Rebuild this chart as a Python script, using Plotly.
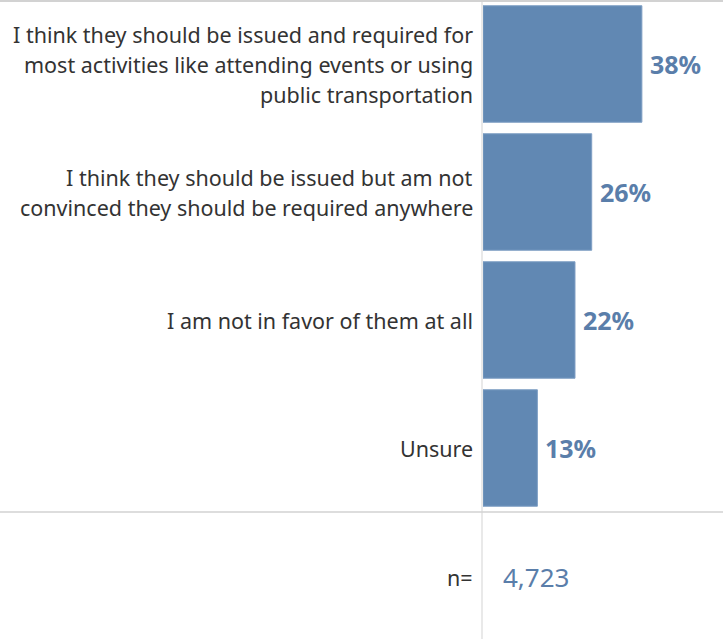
import plotly.graph_objects as go

categories = [
    "I think they should be issued and required for<br>most activities like attending events or using<br>public transportation",
    "I think they should be issued but am not<br>convinced they should be required anywhere",
    "I am not in favor of them at all",
    "Unsure",
]
values = [38, 26, 22, 13]
value_labels = ["38%", "26%", "22%", "13%"]
n_label = "n="
n_value = "4,723"

W, H = 723, 639
x0 = 483 / W
y_split = 1 - 512 / H

bar_color = "#6188b3"
text_blue = "#5a7eaa"
font_family = "Noto Sans"
line_h = 30

fig = go.Figure()
fig.add_trace(go.Bar(
    x=values, y=categories, orientation="h",
    marker=dict(color=bar_color, line=dict(color="#7f9fc4", width=1)),
    hoverinfo="skip",
))

fig.update_layout(
    width=W, height=H,
    margin=dict(l=0, r=0, t=0, b=0),
    paper_bgcolor="white", plot_bgcolor="white",
    showlegend=False,
    bargap=0.09,
    xaxis=dict(domain=[x0, 1], range=[0, 57.4], visible=False, fixedrange=True),
    yaxis=dict(domain=[y_split, 1], autorange="reversed", fixedrange=True,
               showticklabels=False, showgrid=False, zeroline=False,
               categoryorder="array", categoryarray=categories),
)

for c, v, t in zip(categories, values, value_labels):
    lines = c.split("<br>")
    n = len(lines)
    for i, ln in enumerate(lines):
        fig.add_annotation(
            x=x0 - 8 / W, y=c, xref="paper", yref="y",
            yshift=-(i - (n - 1) / 2) * line_h,
            text=ln, showarrow=False, xanchor="right", yanchor="middle", align="right",
            font=dict(family=font_family, size=21.5, color="#333333"),
        )
    fig.add_annotation(
        x=v, y=c, xref="x", yref="y", xshift=6,
        text=t, showarrow=False, xanchor="left", yanchor="middle",
        font=dict(family=font_family, size=25, color=text_blue, weight="bold"),
    )

fig.add_annotation(x=x0 - 8 / W, y=1 - 577 / H, xref="paper", yref="paper",
                   text=n_label, showarrow=False, xanchor="right", yanchor="middle",
                   font=dict(family=font_family, size=21.5, color="#333333"))
fig.add_annotation(x=501 / W, y=1 - 577 / H, xref="paper", yref="paper",
                   text=n_value, showarrow=False, xanchor="left", yanchor="middle",
                   font=dict(family=font_family, size=26, color=text_blue))

# lines
fig.add_shape(type="line", xref="paper", yref="paper", x0=x0 - 1 / W, x1=x0 - 1 / W, y0=0, y1=1,
              line=dict(color="#e2e2e2", width=1.5), layer="below")
fig.add_shape(type="line", xref="paper", yref="paper", x0=0, x1=1, y0=y_split, y1=y_split,
              line=dict(color="#d2d2d2", width=1.5))
fig.add_shape(type="line", xref="paper", yref="paper", x0=0, x1=1, y0=1 - 1 / H, y1=1 - 1 / H,
              line=dict(color="#d2d2d2", width=2))

fig.write_html("out.html", config={"displayModeBar": False, "staticPlot": True},
               post_script="document.body.style.margin='0';")
